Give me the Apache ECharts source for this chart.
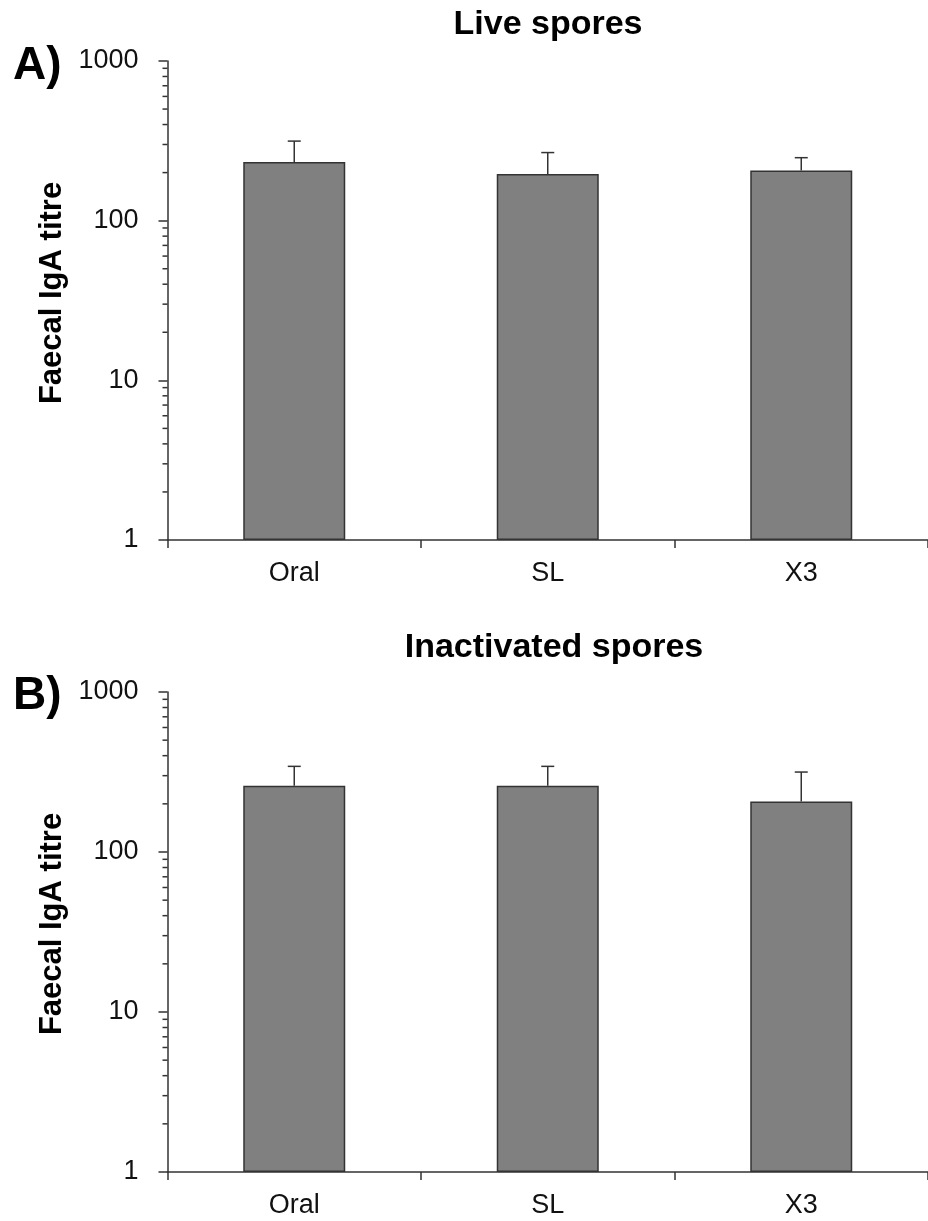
<!DOCTYPE html>
<html><head><meta charset="utf-8">
<script src="https://cdn.jsdelivr.net/npm/echarts@6/dist/echarts.min.js"></script>
<style>html,body{margin:0;padding:0;background:#fff}#c{width:928px;height:1221px}</style>
</head><body><div id="c"></div>
<script>
const categories = ['Oral', 'SL', 'X3'];
const liveMean = [233, 196, 206];
const liveUpper = [315, 267, 248];
const inactMean = [259, 259, 207];
const inactUpper = [343, 343, 316];
const panelTitles = ['Live spores', 'Inactivated spores'];
const panelLetters = ['A)', 'B)'];
const yAxisTitle = 'Faecal IgA titre';
const minorTickValues = [2,3,4,5,6,7,8,9,20,30,40,50,60,70,80,90,200,300,400,500,600,700,800,900];

const FONT = '"Liberation Sans", Arial, sans-serif';
const AX = '#333';

const chart = echarts.init(document.getElementById('c'), null, {renderer: 'canvas'});

const grids = [
  {left: 167.5, top: 61, width: 766, height: 479},
  {left: 167.5, top: 692, width: 766, height: 480}
];

function xAxis(i) {
  return {
    type: 'category', gridIndex: i, data: categories,
    axisLine: {lineStyle: {color: AX, width: 1.5}},
    axisTick: {show: true, length: 8, lineStyle: {color: AX, width: 1.5}},
    axisLabel: {fontFamily: FONT, fontSize: 27, color: '#111', margin: 20}
  };
}
function yAxis(i) {
  return {
    type: 'log', logBase: 10, gridIndex: i, min: 1, max: 1000,
    axisLine: {show: true, lineStyle: {color: AX, width: 1.5}},
    axisTick: {show: true, length: 9, lineStyle: {color: AX, width: 1.5}},
    splitLine: {show: false},
    axisLabel: {fontFamily: FONT, fontSize: 27, color: '#111', margin: 29,
      formatter: v => String(Math.round(v))}
  };
}

function errData(mean, upper) {
  return mean.map((m, k) => [k, m, upper[k]]);
}
function errRender(params, api) {
  const c = api.value(0);
  const lo = api.coord([c, api.value(1)]);
  const hi = api.coord([c, api.value(2)]);
  const hw = 6.5;
  return {
    type: 'group',
    children: [
      {type: 'line', shape: {x1: lo[0], y1: lo[1], x2: hi[0], y2: hi[1]}, style: {stroke: AX, lineWidth: 1.5}},
      {type: 'line', shape: {x1: hi[0] - hw, y1: hi[1], x2: hi[0] + hw, y2: hi[1]}, style: {stroke: AX, lineWidth: 1.5}}
    ]
  };
}
function minorRender(params, api) {
  const p = api.coord([0, api.value(1)]);
  const x0 = params.coordSys.x;
  return {type: 'line', shape: {x1: x0 - 5, y1: p[1], x2: x0, y2: p[1]}, style: {stroke: AX, lineWidth: 1.5}};
}

function panelSeries(i, mean, upper) {
  return [
    {type: 'bar', xAxisIndex: i, yAxisIndex: i, data: mean, barWidth: 102,
      itemStyle: {color: '#808080', borderColor: AX, borderWidth: 1.5}, silent: true, z: 2},
    {type: 'custom', xAxisIndex: i, yAxisIndex: i, data: errData(mean, upper),
      renderItem: errRender, encode: {x: 0, y: 1}, clip: false, silent: true, z: 3},
    {type: 'custom', xAxisIndex: i, yAxisIndex: i, data: minorTickValues.map(v => [0, v]),
      renderItem: minorRender, encode: {x: 0, y: 1}, clip: false, silent: true, z: 4}
  ];
}

const graphics = [];
const titleX = [548, 554];
const titleY = [24.4, 648];
const letterY = [66.5, 696.5];
const labelY = [293, 924];
for (let i = 0; i < 2; i++) {
  graphics.push({type: 'text', x: titleX[i], y: titleY[i],
    style: {text: panelTitles[i], font: 'bold 34px ' + FONT, fill: '#000', textAlign: 'center', textVerticalAlign: 'middle'}});
  graphics.push({type: 'text', x: 13, y: letterY[i],
    style: {text: panelLetters[i], font: 'bold 46px ' + FONT, fill: '#000', textAlign: 'left', textVerticalAlign: 'middle'}});
  graphics.push({type: 'text', x: 52, y: labelY[i], rotation: Math.PI / 2,
    style: {text: yAxisTitle, font: 'bold 31px ' + FONT, fill: '#000', textAlign: 'center', textVerticalAlign: 'middle'}});
}

chart.setOption({
  animation: false,
  backgroundColor: '#fff',
  grid: grids,
  xAxis: [xAxis(0), xAxis(1)],
  yAxis: [yAxis(0), yAxis(1)],
  series: [...panelSeries(0, liveMean, liveUpper), ...panelSeries(1, inactMean, inactUpper)],
  graphic: graphics
});
</script></body></html>
